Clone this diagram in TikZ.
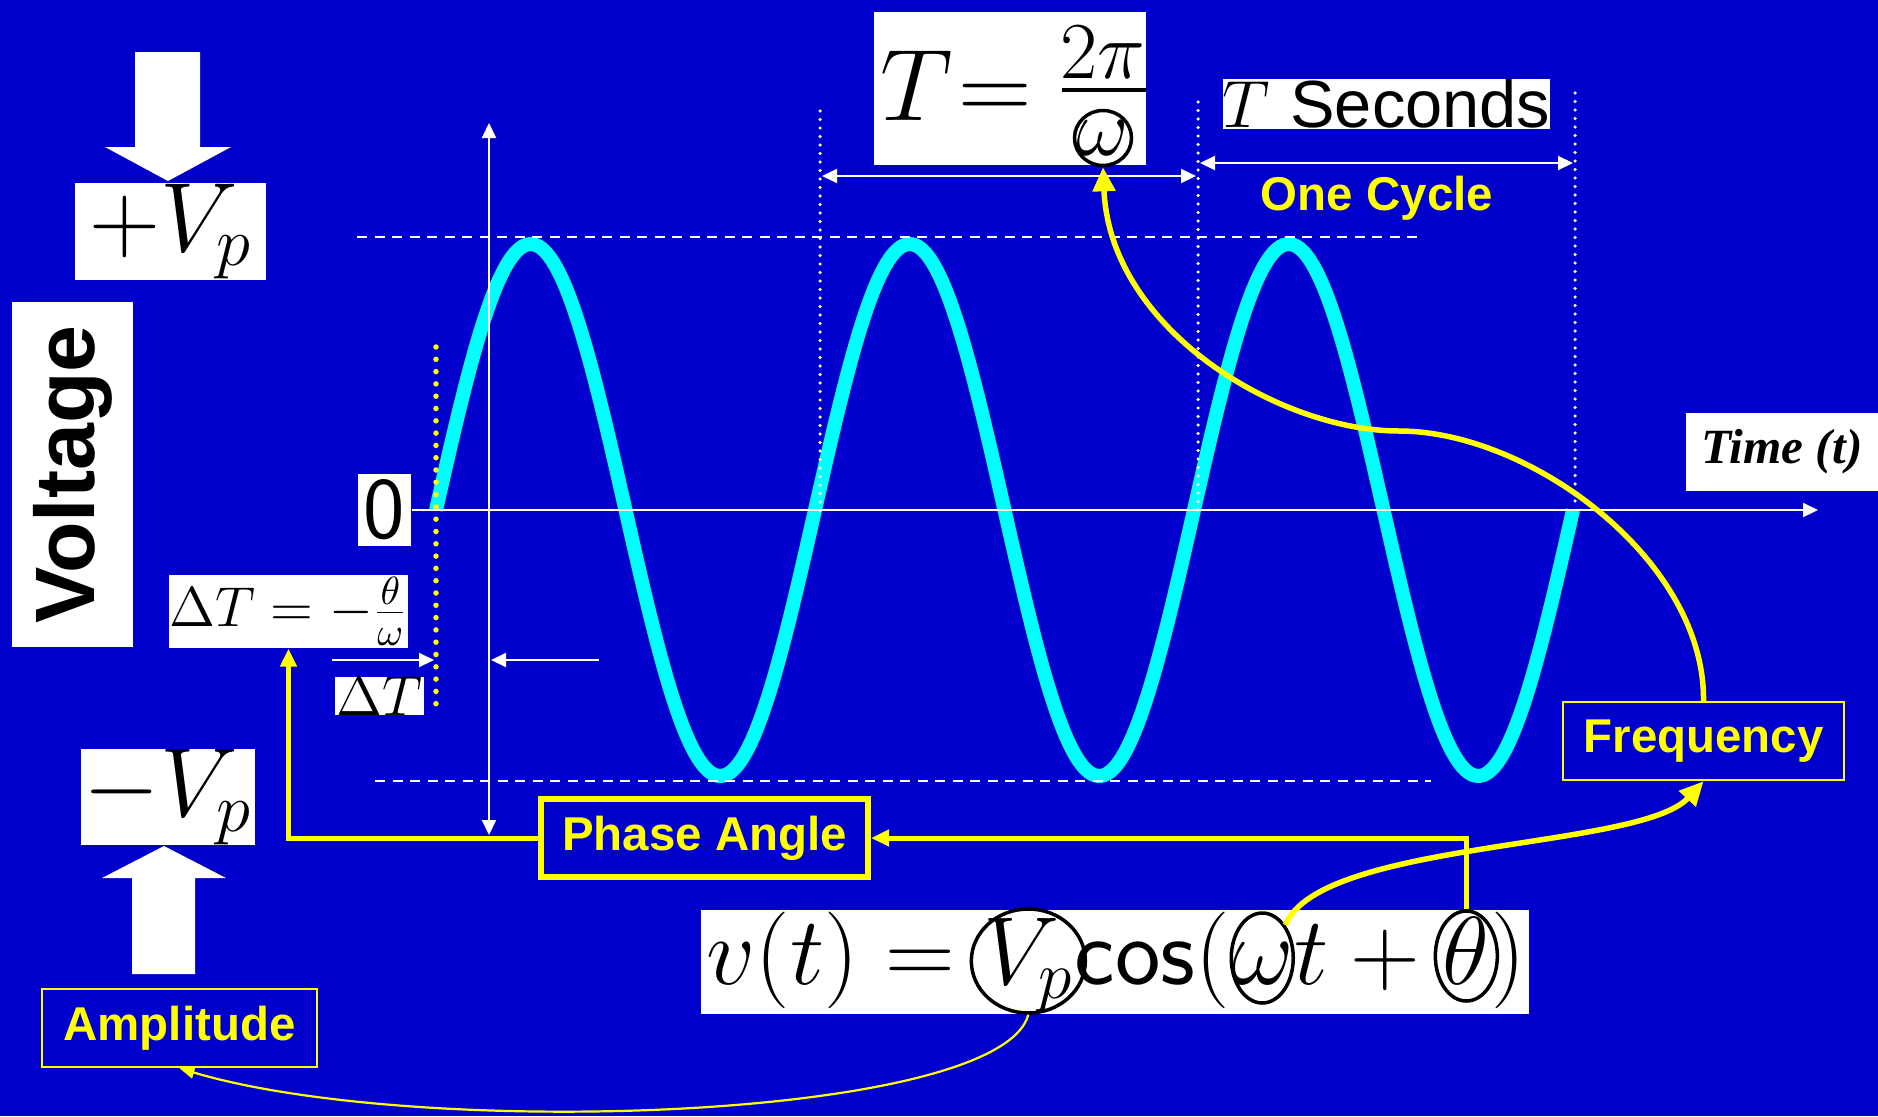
\RequirePackage{fix-cm}
\documentclass[tikz,border=0pt]{standalone}
\usepackage{fontspec}
\newfontfamily\arial{Liberation Sans}
\newfontfamily\timesfont{Liberation Serif}
\usetikzlibrary{arrows.meta,positioning,shapes.geometric,calc}
\definecolor{bgblue}{RGB}{0,0,204}
\definecolor{wavecyan}{RGB}{0,255,255}
\definecolor{ylw}{RGB}{255,255,0}
\newcommand{\fsz}[1]{\fontsize{#1}{#1}\selectfont}

\begin{document}
\begin{tikzpicture}[x=0.1mm,y=-0.1mm,
  wbox/.style={fill=white,text=black,inner sep=0pt},
  ybox/.style={draw=ylw,text=ylw,inner sep=0pt,line width=0.25mm,font=\fsz{13.5}\arial\bfseries},
  mpart/.style={inner sep=0pt,anchor=base west,font=\fsz{27.5}},
  circ/.style={draw=black,ellipse,inner sep=0pt,line width=0.35mm},
  wline/.style={white,line width=0.2mm},
  warrow/.style={wline,-{Triangle[length=1.5mm,width=1.4mm]}},
  wdarrow/.style={wline,{Triangle[length=1.5mm,width=1.4mm]}-{Triangle[length=1.5mm,width=1.4mm]}},
  wdash/.style={white,line width=0.2mm,dash pattern=on 1mm off 0.75mm},
  wdots/.style={white,line width=0.35mm,line cap=round,dash pattern=on 0pt off 0.85mm},
  yline/.style={ylw,line width=0.5mm,-{Triangle[length=1.8mm,width=1.6mm]}},
  yarrow/.style={ylw,line width=0.55mm,-{Triangle[length=2.4mm,width=2.2mm]}}]
\useasboundingbox (0,0) rectangle (1878,1116);
\fill[bgblue] (0,0) rectangle (1878,1116);

% block arrows
\fill[white] (135,52)--(200,52)--(200,147)--(231,147)--(168,181)--(105,147)--(135,147)--cycle;
\fill[white] (132,974)--(195,974)--(195,878)--(226,878)--(164,846)--(102,878)--(132,878)--cycle;

% sine wave
\draw[wavecyan,line width=1.4mm,line join=round] plot[domain=0:1080,samples=217,smooth] ({436+\x/360*379},{510-266*sin(\x)});

\draw[wdash] (357,237)--(1417,237);
\draw[wdash] (375,781)--(1431,781);
\draw[wdots] (820,111)--(820,515);
\draw[wdots] (1198,102)--(1198,515);
\draw[wdots] (1575,93)--(1575,509);

\node[wbox,minimum width=19.1mm,minimum height=9.7mm,font=\fsz{28}] (vpos) at (170.5,231.5) {$+V_p$};
\node[wbox,minimum width=17.4mm,minimum height=9.4mm,font=\fsz{28}] (vneg) at (168,797) {$-V_p$};
\node[wbox,rotate=90,minimum width=34.5mm,minimum height=12.1mm,font=\fsz{24}\arial\bfseries] (volt) at (72.5,474.5) {Voltage};
\node[wbox,minimum width=5.3mm,minimum height=7.2mm,font=\fsz{25}\sffamily] (zero) at (384.5,510) {0};
\node[wbox,minimum width=23.9mm,minimum height=7.3mm,font=\fsz{16}] (dteq) at (288.5,611.5) {$\Delta T=-\frac{\theta}{\omega}$};
\node[wbox,minimum width=8.9mm,minimum height=3.8mm,font=\fsz{16}] (dt) at (379.5,696) {$\Delta T$};
\node[wbox,minimum width=19.2mm,minimum height=7.8mm,font=\fsz{14}\timesfont\bfseries\itshape] (time) at (1782,452) {Time (t)};
\node[wbox,minimum width=32.1mm,minimum height=5mm,font=\fsz{19}] (tsec) at (1386.5,104) {$T$ {\arial Seconds}};

% T = 2pi/omega
\node[wbox,minimum width=27.2mm,minimum height=15.3mm] (tbox) at (1010,88.5) {};
\node[inner sep=0pt,anchor=base west,font=\fsz{29}] (teq) at (880,120) {$T\mkern-4mu=$};
\node[inner sep=0pt,anchor=base,font=\fsz{23}] (tnum) at (1103,78) {$2\pi$};
\draw[black,line width=0.35mm] (1062,90)--(1146,90);
\node[inner sep=0pt,anchor=base,font=\fsz{23}] (tden) at (1103,155) {$\omega$};
\node[circ,minimum width=5.7mm,minimum height=5.5mm] (tdenc) at ([yshift=1.7mm]tden.base) {};

% v(t) equation
\node[wbox,minimum width=82.8mm,minimum height=10.4mm] (eqbox) at (1115,962) {};
\node[mpart] (eqa) at (706,984) {$v(t)={}$};
\node[mpart] (vp) at (eqa.base east) {$V_p$};
\node[mpart] (eqb) at (vp.base east) {\textsf{cos}$($};
\node[mpart] (om) at (eqb.base east) {$\omega$};
\node[mpart] (eqc) at (om.base east) {$t+{}$};
\node[mpart] (th) at (eqc.base east) {$\theta$};
\node[mpart] (eqd) at (th.base east) {$)$};
\node[circ,minimum width=11.4mm,minimum height=10.4mm] (vpc) at ([yshift=2.3mm]vp.base) {};
\node[circ,minimum width=6.2mm,minimum height=9mm] (omc) at ([yshift=2.6mm]om.base) {};
\node[circ,minimum width=6.2mm,minimum height=9mm] (thc) at ([yshift=2.8mm]th.base) {};

\node[ybox,line width=0.6mm,minimum width=32.7mm,minimum height=7.8mm] (phase) at (704.5,838) {Phase Angle};
\node[ybox,minimum width=28.1mm,minimum height=7.8mm] (freq) at (1703.5,741) {Frequency};
\node[ybox,minimum width=27.5mm,minimum height=7.8mm] (amp) at (179.5,1028) {Amplitude};
\node[text=ylw,font=\fsz{13.5}\arial\bfseries] (cycle) at (1377,198) {One Cycle};

% axes and time marks
\coordinate (xend) at (1818,510);
\coordinate (ytop) at (489,123);
\coordinate (ybot) at (489,835);
\draw[warrow] (zero.east)--(xend);
\draw[wdarrow] (ybot)--(ytop);
\coordinate (tl) at (822,176);
\coordinate (tr) at (1196,176);
\coordinate (cl) at (1200,163);
\coordinate (cr) at (1573,163);
\draw[wdarrow] (tl)--(tr);
\draw[wdarrow] (cl)--(cr);
\coordinate (dla) at (332,660);
\coordinate (dlb) at (434,660);
\coordinate (dra) at (599,660);
\coordinate (drb) at (491,660);
\draw[warrow] (dla)--(dlb);
\draw[warrow] (dra)--(drb);
\draw[ylw,line width=0.55mm,line cap=round,dash pattern=on 0pt off 1.23mm] (436,347)--(436,713);

% yellow links
\coordinate (fbend) at (1399,431);
\draw[yarrow] (freq.north) .. controls (1705,560) and (1530,431) .. (fbend) .. controls (1280,431) and (1110,330) .. (tdenc.south);
\draw[yarrow] (omc.north east) .. controls (1320,840) and (1640,850) .. (freq.south);
\draw[yline] (thc.north) |- (phase.east);
\draw[yline] (phase.west) -| (dteq.south);
\draw[ylw,line width=0.22mm,-{Triangle[length=1.5mm,width=1.2mm]}] (vpc.south) .. controls (1000,1120) and (420,1140) .. (amp.south);
\end{tikzpicture}
\end{document}
